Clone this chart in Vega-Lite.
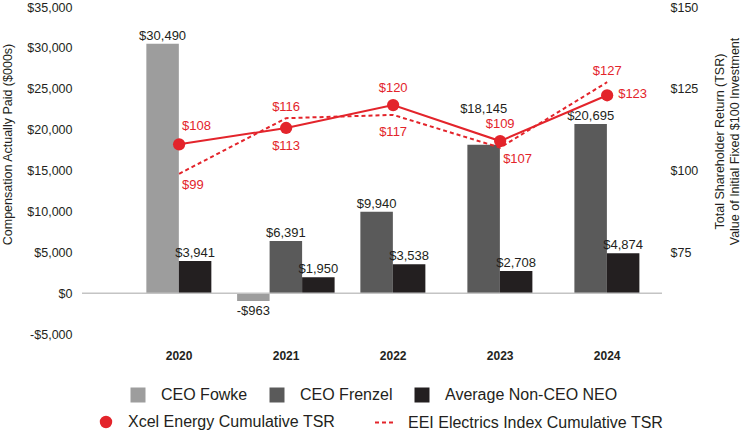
{
  "$schema": "https://vega.github.io/schema/vega-lite/v6.json",
  "width": 580,
  "height": 327,
  "autosize": {"type": "none"},
  "padding": {"left": 82, "top": 7, "right": 80, "bottom": 100},
  "config": {
    "view": {"stroke": null},
    "font": "Liberation Sans",
    "locale": {"number": {"decimal": ".", "thousands": ",", "grouping": [3], "currency": ["$", ""], "minus": "-"}},
    "axis": {"grid": false, "domain": false, "ticks": false, "labelColor": "#231f20", "titleColor": "#231f20", "labelFont": "Liberation Sans", "titleFont": "Liberation Sans", "titleFontWeight": "normal"},
    "legend": {"labelFont": "Liberation Sans", "labelFontSize": 16, "labelColor": "#231f20", "padding": 0, "title": null, "labelLimit": 400}
  },
  "datasets": {
    "pay": [
      {"year": "2020", "series": "CEO Fowke", "value": 30490},
      {"year": "2020", "series": "Average Non-CEO NEO", "value": 3941},
      {"year": "2021", "series": "CEO Fowke", "value": -963},
      {"year": "2021", "series": "CEO Frenzel", "value": 6391},
      {"year": "2021", "series": "Average Non-CEO NEO", "value": 1950},
      {"year": "2022", "series": "CEO Frenzel", "value": 9940},
      {"year": "2022", "series": "Average Non-CEO NEO", "value": 3538},
      {"year": "2023", "series": "CEO Frenzel", "value": 18145},
      {"year": "2023", "series": "Average Non-CEO NEO", "value": 2708},
      {"year": "2024", "series": "CEO Frenzel", "value": 20695},
      {"year": "2024", "series": "Average Non-CEO NEO", "value": 4874}
    ],
    "tsr": [
      {"year": "2020", "series": "Xcel", "tsr": 108},
      {"year": "2021", "series": "Xcel", "tsr": 113},
      {"year": "2022", "series": "Xcel", "tsr": 120},
      {"year": "2023", "series": "Xcel", "tsr": 109},
      {"year": "2024", "series": "Xcel", "tsr": 123},
      {"year": "2020", "series": "EEI", "tsr": 99},
      {"year": "2021", "series": "EEI", "tsr": 116},
      {"year": "2022", "series": "EEI", "tsr": 117},
      {"year": "2023", "series": "EEI", "tsr": 107},
      {"year": "2024", "series": "EEI", "tsr": 127}
    ]
  },
  "resolve": {"scale": {"y": "independent"}},
  "layer": [
    {
      "layer": [
        {
          "data": {"name": "pay"},
          "transform": [
            {"window": [{"op": "row_number", "as": "idx"}]},
            {"window": [{"op": "count", "as": "one"}], "frame": [0, 0]},
            {"stack": "one", "groupby": ["year"], "sort": [{"field": "idx"}], "offset": "center", "as": ["s0", "s1"]}
          ],
          "encoding": {
            "x": {"field": "year", "type": "nominal", "title": null,
                  "scale": {"paddingInner": 0, "paddingOuter": 0.21, "align": 0.97},
                  "axis": {"title": null, "labelAngle": 0, "labelFontSize": 12, "labelFontWeight": "bold", "labelPadding": 16}},
            "xOffset": {"field": "s0", "type": "quantitative", "scale": {"domain": [-1.5, 1.5], "range": [-28, 69.5]}},
            "y": {"field": "value", "type": "quantitative",
                  "scale": {"domain": [-5000, 35000], "nice": false, "zero": false},
                  "axis": {"title": "Compensation Actually Paid ($000s)", "values": [-5000, 0, 5000, 10000, 15000, 20000, 25000, 30000, 35000],
                           "format": "$,.0f", "labelFontSize": 12.5, "labelPadding": 10, "titleFontSize": 12.5, "titleX": -68, "titleY": 137, "titleAngle": -90, "titleBaseline": "bottom"}}
          },
          "layer": [
            {
              "mark": {"type": "bar", "width": 32.5},
              "encoding": {
                "color": {"field": "series", "type": "nominal",
                          "scale": {"domain": ["CEO Fowke", "CEO Frenzel", "Average Non-CEO NEO"], "range": ["#9d9d9d", "#5a5a5a", "#231f20"]},
                          "legend": {"orient": "none", "legendX": 48, "legendY": 380, "direction": "horizontal", "symbolType": "square", "symbolSize": 225, "symbolStrokeWidth": 0, "labelOffset": 15, "columnPadding": 21}}
              }
            },
            {
              "transform": [{"filter": "datum.value > 0 && !(datum.year == '2023' && datum.series == 'CEO Frenzel')"}],
              "mark": {"type": "text", "dy": -4, "baseline": "alphabetic", "align": "center", "fontSize": 13, "color": "#231f20"},
              "encoding": {"text": {"field": "value", "type": "quantitative", "format": "$,.0f"}}
            },
            {
              "transform": [{"filter": "datum.year == '2023' && datum.series == 'CEO Frenzel'"}],
              "mark": {"type": "text", "dy": -32, "baseline": "alphabetic", "align": "center", "fontSize": 13, "color": "#231f20"},
              "encoding": {"text": {"field": "value", "type": "quantitative", "format": "$,.0f"}}
            },
            {
              "transform": [{"filter": "datum.value < 0"}],
              "mark": {"type": "text", "dy": 4, "baseline": "top", "align": "center", "fontSize": 13, "color": "#231f20"},
              "encoding": {"text": {"field": "value", "type": "quantitative", "format": "$,.0f"}}
            }
          ]
        },
        {
          "data": {"values": [{}]},
          "mark": {"type": "rule", "color": "#c4c4c4", "strokeWidth": 1.5},
          "encoding": {"y": {"datum": 0}}
        }
      ]
    },
    {
      "data": {"name": "tsr"},
      "encoding": {
        "x": {"field": "year", "type": "nominal", "title": null},
        "y": {"field": "tsr", "type": "quantitative",
              "scale": {"domain": [50, 150], "nice": false, "zero": false},
              "axis": {"orient": "right", "values": [75, 100, 125, 150], "format": "$,.0f", "labelFontSize": 12.5, "labelPadding": 8,
                       "title": ["Total Shareholder Return (TSR)", "Value of Initial Fixed $100 Investment"], "titleFontSize": 12.5, "titleAngle": -90, "titleX": 57, "titleY": 134, "titleBaseline": "middle", "titleLineHeight": 15}}
      },
      "layer": [
        {
          "transform": [{"filter": "datum.series == 'EEI'"}],
          "mark": {"type": "line", "color": "#e3242b", "strokeWidth": 2},
          "encoding": {"strokeDash": {"datum": "EEI Electrics Index Cumulative TSR", "type": "nominal", "scale": {"range": [[4, 3]]},
                                      "legend": {"orient": "none", "legendX": 292, "legendY": 404, "symbolType": "stroke", "symbolSize": 441, "symbolStrokeWidth": 2, "labelOffset": 11}}}
        },
        {
          "transform": [{"filter": "datum.series == 'Xcel'"}],
          "mark": {"type": "line", "color": "#e3242b", "strokeWidth": 2}
        },
        {
          "transform": [{"filter": "datum.series == 'Xcel'"}],
          "mark": {"type": "point", "filled": true, "color": "#e3242b", "size": 150, "opacity": 1},
          "encoding": {"shape": {"datum": "Xcel Energy Cumulative TSR", "type": "nominal", "scale": {"range": ["circle"]},
                                 "legend": {"orient": "none", "legendX": 16, "legendY": 407, "symbolSize": 154, "labelOffset": 14}}}
        },
        {
          "transform": [{"filter": "datum.series == 'Xcel' && (datum.year == '2022' || datum.year == '2023')"}],
          "mark": {"type": "text", "color": "#e3242b", "fontSize": 13, "baseline": "middle", "align": "center", "dy": -17},
          "encoding": {"text": {"field": "tsr", "type": "quantitative", "format": "$,.0f"}}
        },
        {
          "transform": [{"filter": "datum.series == 'Xcel' && datum.year == '2020'"}],
          "mark": {"type": "text", "color": "#e3242b", "fontSize": 13, "baseline": "middle", "align": "left", "dx": 3, "dy": -18},
          "encoding": {"text": {"field": "tsr", "type": "quantitative", "format": "$,.0f"}}
        },
        {
          "transform": [{"filter": "datum.series == 'Xcel' && datum.year == '2021'"}],
          "mark": {"type": "text", "color": "#e3242b", "fontSize": 13, "baseline": "middle", "align": "center", "dy": 18},
          "encoding": {"text": {"field": "tsr", "type": "quantitative", "format": "$,.0f"}}
        },
        {
          "transform": [{"filter": "datum.series == 'Xcel' && datum.year == '2024'"}],
          "mark": {"type": "text", "color": "#e3242b", "fontSize": 13, "baseline": "middle", "align": "left", "dx": 11, "dy": -1},
          "encoding": {"text": {"field": "tsr", "type": "quantitative", "format": "$,.0f"}}
        },
        {
          "transform": [{"filter": "datum.series == 'EEI' && (datum.year == '2021' || datum.year == '2024')"}],
          "mark": {"type": "text", "color": "#e3242b", "fontSize": 13, "baseline": "middle", "align": "center", "dy": -11},
          "encoding": {"text": {"field": "tsr", "type": "quantitative", "format": "$,.0f"}}
        },
        {
          "transform": [{"filter": "datum.series == 'EEI' && datum.year == '2022'"}],
          "mark": {"type": "text", "color": "#e3242b", "fontSize": 13, "baseline": "middle", "align": "center", "dy": 17},
          "encoding": {"text": {"field": "tsr", "type": "quantitative", "format": "$,.0f"}}
        },
        {
          "transform": [{"filter": "datum.series == 'EEI' && (datum.year == '2020' || datum.year == '2023')"}],
          "mark": {"type": "text", "color": "#e3242b", "fontSize": 13, "baseline": "middle", "align": "left", "dx": 3, "dy": 11},
          "encoding": {"text": {"field": "tsr", "type": "quantitative", "format": "$,.0f"}}
        }
      ]
    }
  ]
}
